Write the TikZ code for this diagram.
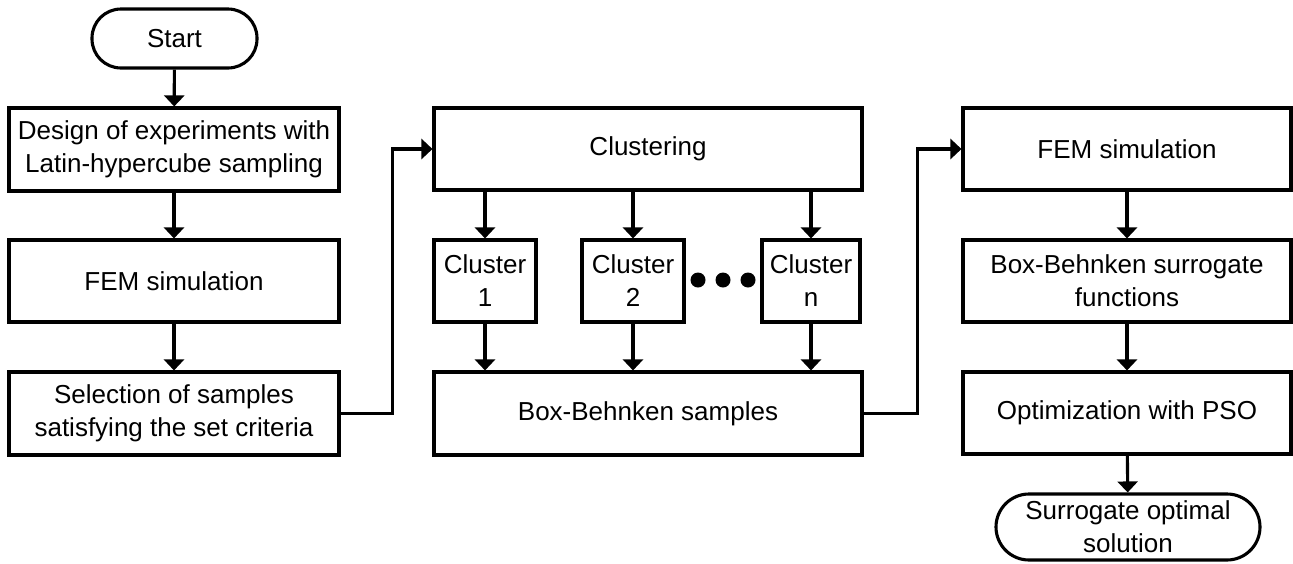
\documentclass[tikz,border=0pt]{standalone}
\usepackage{fontspec}
\setmainfont{Liberation Sans}
\usetikzlibrary{arrows.meta}
\begin{document}
\begin{tikzpicture}[x=1pt,y=-1pt,
  every node/.style={font=\fontsize{26}{33}\selectfont, align=center, inner sep=0pt},
  boxn/.style={draw, line width=3.1pt, rectangle},
  termn/.style={draw, line width=3.1pt, rectangle, rounded corners=#1},
  arr/.style={line width=3.1pt, -{Triangle[width=20pt,length=11pt]}},
  conn/.style={line width=3.1pt}]
\useasboundingbox (0,0) rectangle (1293,563);
% left column
\node[termn=29pt, minimum width=165pt, minimum height=59pt] (start) at (174.5,38.5) {Start};
\node[boxn, minimum width=330pt, minimum height=83pt] (b1) at (174,149.5) {Design of experiments with\\Latin-hypercube sampling};
\node[boxn, minimum width=330pt, minimum height=82pt] (b2) at (174,281) {FEM simulation};
\node[boxn, minimum width=330pt, minimum height=83pt] (b3) at (174,413.5) {Selection of samples\\satisfying the set criteria};
% middle column
\node[boxn, minimum width=428pt, minimum height=82pt] (clu) at (648,149) {Clustering};
\node[boxn, minimum width=102pt, minimum height=82pt] (c1) at (485,281) {Cluster\\1};
\node[boxn, minimum width=102pt, minimum height=82pt] (c2) at (633,281) {Cluster\\2};
\node[boxn, minimum width=98pt, minimum height=82pt] (cn) at (811,281) {Cluster\\n};
\node[boxn, minimum width=428pt, minimum height=83pt] (bbs) at (648,413.5) {Box-Behnken samples};
\fill (698,280) circle (7.5pt) (723,280) circle (7.5pt) (748,280) circle (7.5pt);
% right column
\node[boxn, minimum width=328pt, minimum height=82pt] (fem) at (1127,149) {FEM simulation};
\node[boxn, minimum width=328pt, minimum height=82pt] (bbsf) at (1127,281) {Box-Behnken surrogate\\functions};
\node[boxn, minimum width=328pt, minimum height=82pt] (opt) at (1127,413) {Optimization with PSO};
\node[termn=33pt, minimum width=264pt, minimum height=66pt] (sol) at (1128,527) {Surrogate optimal\\solution};
% connectors
\draw[arr] (start) -- (b1);
\draw[arr] (b1) -- (b2);
\draw[arr] (b2) -- (b3);
\draw[arr] (b3.east) -- ++(52,0) |- (clu.west);
\draw[arr] (clu.south -| c1) -- (c1);
\draw[arr] (clu.south -| c2) -- (c2);
\draw[arr] (clu.south -| cn) -- (cn);
\draw[arr] (c1) -- (bbs.north -| c1);
\draw[arr] (c2) -- (bbs.north -| c2);
\draw[arr] (cn) -- (bbs.north -| cn);
\draw[arr] (bbs.east) -- ++(54,0) |- (fem.west);
\draw[arr] (fem) -- (bbsf);
\draw[arr] (bbsf) -- (opt);
\draw[arr] (opt) -- (sol);
\end{tikzpicture}
\end{document}
